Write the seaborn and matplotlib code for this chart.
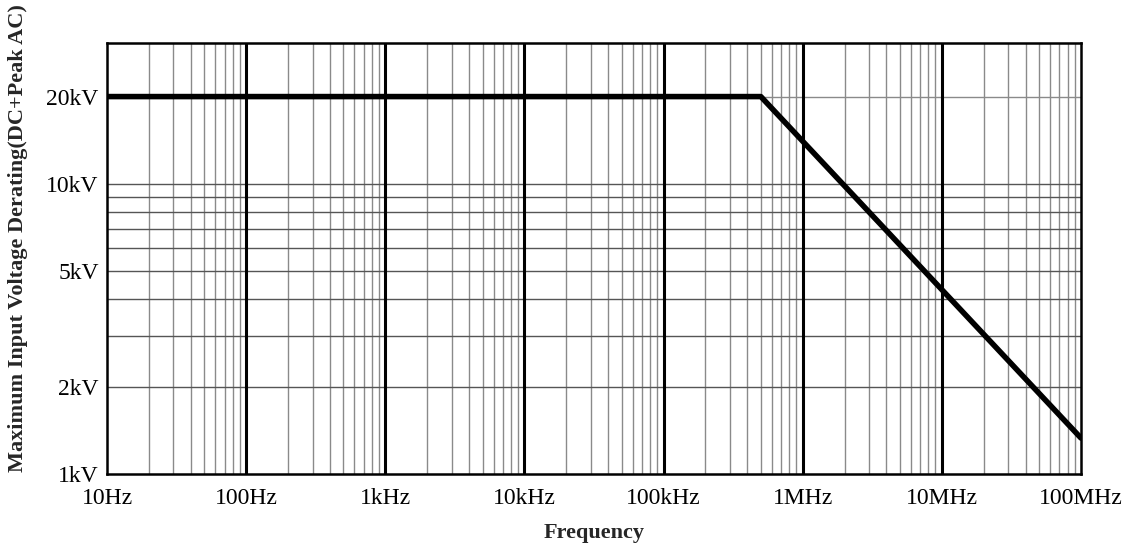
import matplotlib
matplotlib.use("Agg")
import matplotlib.pyplot as plt
import seaborn as sns
import pandas as pd
import numpy as np

freq_hz = [10, 500e3, 100e6]
voltage_v = [20000, 20000, 1330]
x_ticks = [10, 100, 1e3, 1e4, 1e5, 1e6, 1e7, 1e8]
x_labels = ["10Hz", "100Hz", "1kHz", "10kHz", "100kHz", "1MHz", "10MHz", "100MHz"]
y_ticks = [1000, 2000, 5000, 10000, 20000]
y_labels = ["1kV", "2kV", "5kV", "10kV", "20kV"]

sns.set_style("white")
plt.rcParams['font.family'] = ['Liberation Serif', 'DejaVu Serif']

fig = plt.figure(figsize=(11.37, 5.47), dpi=100)
ax = fig.add_axes([107/1137, 1-474/547, (1081-107)/1137, (474-43)/547])

df = pd.DataFrame({"f": freq_hz, "v": voltage_v})
ax.set_xscale("log")
ax.set_yscale("log")
ax.set_xlim(10, 1e8)
ax.set_ylim(1000, 30600)

# grid
for dec in range(1, 8):
    for m in range(2, 10):
        ax.axvline(m * 10**dec, color="#8a8a8a", lw=1.0, zorder=1)
for dec in range(2, 8):
    ax.axvline(10**dec, color="black", lw=2.2, zorder=2)
for m in range(2, 10):
    ax.axhline(m * 1000, color="#555555", lw=1.0, zorder=1)
ax.axhline(10000, color="#555555", lw=1.0, zorder=1)
ax.axhline(20000, color="#8a8a8a", lw=1.0, zorder=1)

sns.lineplot(data=df, x="f", y="v", ax=ax, color="black", lw=4, zorder=5)

ax.xaxis.set_major_locator(matplotlib.ticker.FixedLocator(x_ticks))
ax.xaxis.set_minor_locator(matplotlib.ticker.NullLocator())
ax.yaxis.set_major_locator(matplotlib.ticker.FixedLocator(y_ticks))
ax.yaxis.set_minor_locator(matplotlib.ticker.NullLocator())
ax.set_xticklabels(x_labels)
ax.set_yticklabels(y_labels)
ax.tick_params(axis="both", length=0, labelsize=17, colors="black")
ax.tick_params(axis="x", pad=10)
ax.tick_params(axis="y", pad=6)
ax.set_xlabel("Frequency", fontsize=16, fontweight="bold")
ax.set_ylabel("Maximum Input Voltage Derating(DC+Peak AC)", fontsize=16, fontweight="bold")
ax.xaxis.set_label_coords(0.5, -(533-474)/431, transform=ax.transAxes)
ax.yaxis.set_label_coords(-(107-18)/974, (474-238)/431, transform=ax.transAxes)
ax.xaxis.label.set_va("center")
ax.yaxis.label.set_va("center")
for s in ax.spines.values():
    s.set_color("black")
    s.set_linewidth(1.8)
    s.set_visible(True)

fig.savefig("out.png", dpi=100)
